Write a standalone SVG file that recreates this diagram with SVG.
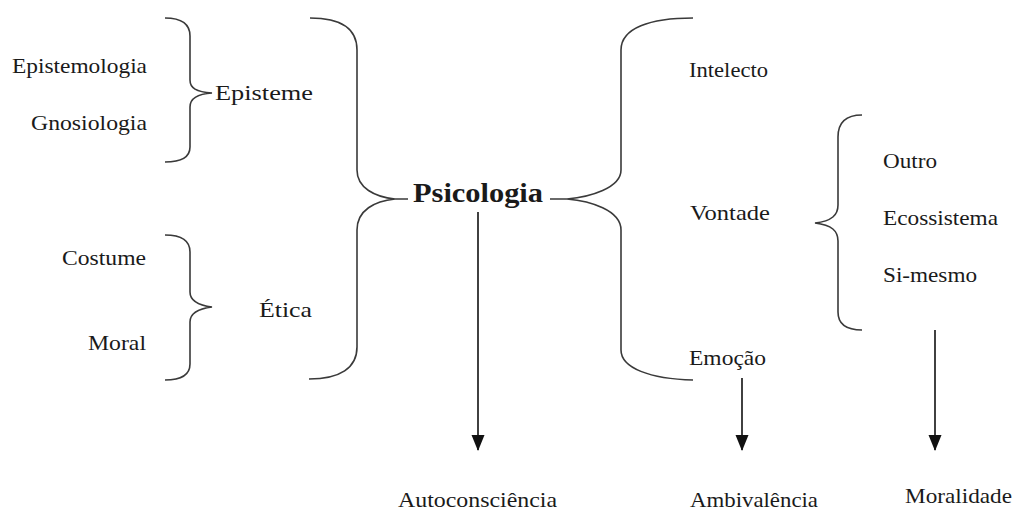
<svg xmlns="http://www.w3.org/2000/svg" width="1016" height="511" viewBox="0 0 1016 511">
<style>
text{font-family:"Liberation Serif","DejaVu Serif","Times New Roman",serif;font-size:22px;fill:#1a1a1a}
.b{font-weight:bold;font-size:28px}
.br{fill:none;stroke:#3a3a3a;stroke-width:1.6}
.ar{fill:none;stroke:#111;stroke-width:1.6}
</style>
<defs>
<marker id="ah" markerUnits="userSpaceOnUse" markerWidth="16" markerHeight="14" refX="15" refY="6.5" orient="auto" viewBox="0 0 16 13">
<path d="M0,0 L16,6.5 L0,13 Z" fill="#111"/>
</marker>
</defs>
<rect width="1016" height="511" fill="#fff"/>
<g id="braces">
<path class="br" d="M165,18 C181,18 190,23 190,36 L190,80 C190,88 196,92 212,93 C196,94 190,99 190,107 L190,147 C190,158 181,162 165,162"/>
<path class="br" d="M165,235 C181,235 190,240 190,252 L190,292 C190,300 196,305 212,307 C196,309 190,314 190,322 L190,364 C190,375 181,380 165,380"/>
<path class="br" d="M310,18 C340,18 357,28 357,50 L357,170 C357,188 375,197 395,199 L408,199 M395,199 C375,201 357,210 357,230 L357,347 C357,368 340,379 309,379"/>
<path class="br" d="M550,199 L567,199 C590,197 621,188 621,170 L621,50 C621,28 650,18 693,18 M567,199 C590,201 621,210 621,230 L621,350 C621,368 650,379 693,380"/>
<path class="br" d="M862,115 C846,115 838,122 838,137 L838,205 C838,215 832,221 815,223 C832,225 838,231 838,241 L838,312 C838,324 846,330 862,330"/>
</g>
<g id="connectors">
<line class="ar" x1="478" y1="212" x2="478" y2="450" marker-end="url(#ah)"/>
<line class="ar" x1="742" y1="378" x2="742" y2="450" marker-end="url(#ah)"/>
<line class="ar" x1="935" y1="330" x2="935" y2="450" marker-end="url(#ah)"/>
</g>
<g id="n-epistemologia"><text x="12" y="73" textLength="135" lengthAdjust="spacingAndGlyphs">Epistemologia</text></g>
<g id="n-gnosiologia"><text x="31" y="130" textLength="116" lengthAdjust="spacingAndGlyphs">Gnosiologia</text></g>
<g id="n-episteme"><text x="215" y="100" textLength="98" lengthAdjust="spacingAndGlyphs">Episteme</text></g>
<g id="n-costume"><text x="62" y="265" textLength="84" lengthAdjust="spacingAndGlyphs">Costume</text></g>
<g id="n-moral"><text x="88" y="350" textLength="58" lengthAdjust="spacingAndGlyphs">Moral</text></g>
<g id="n-etica"><text x="259" y="317" textLength="53" lengthAdjust="spacingAndGlyphs">Ética</text></g>
<g id="n-psicologia"><text class="b" x="413" y="202" textLength="130" lengthAdjust="spacingAndGlyphs">Psicologia</text></g>
<g id="n-intelecto"><text x="689" y="77" textLength="79" lengthAdjust="spacingAndGlyphs">Intelecto</text></g>
<g id="n-vontade"><text x="690" y="220" textLength="80" lengthAdjust="spacingAndGlyphs">Vontade</text></g>
<g id="n-emocao"><text x="689" y="365" textLength="77" lengthAdjust="spacingAndGlyphs">Emoção</text></g>
<g id="n-outro"><text x="883" y="168" textLength="54" lengthAdjust="spacingAndGlyphs">Outro</text></g>
<g id="n-ecossistema"><text x="883" y="225" textLength="115" lengthAdjust="spacingAndGlyphs">Ecossistema</text></g>
<g id="n-simesmo"><text x="883" y="282" textLength="94" lengthAdjust="spacingAndGlyphs">Si-mesmo</text></g>
<g id="n-autoconsciencia"><text x="398" y="507" textLength="159" lengthAdjust="spacingAndGlyphs">Autoconsciência</text></g>
<g id="n-ambivalencia"><text x="690" y="507" textLength="128" lengthAdjust="spacingAndGlyphs">Ambivalência</text></g>
<g id="n-moralidade"><text x="905" y="503" textLength="107" lengthAdjust="spacingAndGlyphs">Moralidade</text></g>
</svg>
